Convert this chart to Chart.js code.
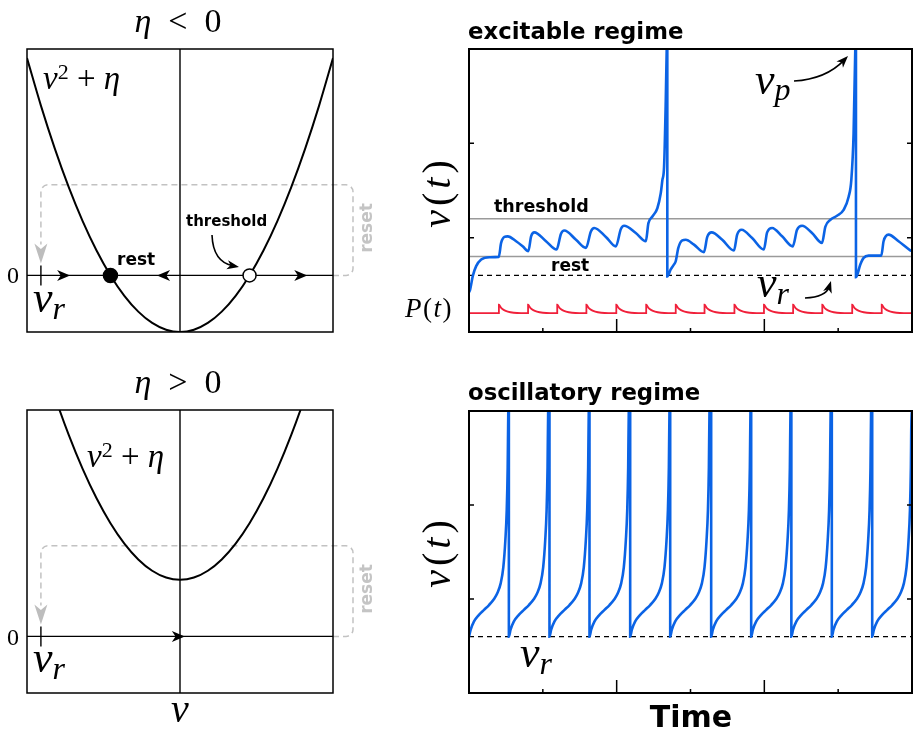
<!DOCTYPE html>
<html>
<head>
<meta charset="utf-8">
<title>QIF neuron: excitable vs oscillatory</title>
<script src="https://cdn.jsdelivr.net/npm/chart.js@4.4.1/dist/chart.umd.min.js"></script>
<style>
  body { margin: 0; background: #fff; }
  #fig { position: relative; width: 914px; height: 734px; overflow: hidden; }
  #fig canvas { position: absolute; left: 0; top: 0; }
  .lbl { position: absolute; white-space: nowrap; line-height: 1; color: #000; }
  .m { font-family: 'Liberation Serif', serif; font-style: italic; }
  .up { font-style: normal; }
  .b { font-family: 'DejaVu Sans', sans-serif; font-weight: bold; }
  .sub { position: relative; font-size: 32px; }
  .rot { transform: rotate(-90deg); text-align: center; }
</style>
</head>
<body>
<div id="fig">
  <canvas id="tl" width="914" height="734"></canvas>
  <canvas id="bl" width="914" height="734"></canvas>
  <canvas id="tr" width="914" height="734"></canvas>
  <canvas id="br" width="914" height="734"></canvas>

  <!-- left column -->
  <div class="lbl m" style="left:78px;width:200px;text-align:center;top:4px;font-size:34px">η<span class="up" style="margin:0 17px">&lt;</span><span class="up">0</span></div>
  <div class="lbl m" style="left:43px;top:62px;font-size:33px">v<span class="up" style="position:relative;top:-0.45em;font-size:22px">2</span><span class="up"> + </span>η</div>
  <div class="lbl m up" style="left:7px;top:263px;font-size:24px">0</div>
  <div class="lbl m" style="left:33px;top:276px;font-size:44px">v<span class="sub" style="top:7px">r</span></div>
  <div class="lbl b" style="left:117px;top:251px;font-size:17px">rest</div>
  <div class="lbl b" style="left:186px;top:214px;font-size:15px">threshold</div>
  <div class="lbl b rot" style="left:326px;top:218px;width:80px;height:20px;line-height:20px;font-size:17px;color:#c4c4c4">reset</div>

  <div class="lbl m" style="left:78px;width:200px;text-align:center;top:365px;font-size:34px">η<span class="up" style="margin:0 17px">&gt;</span><span class="up">0</span></div>
  <div class="lbl m" style="left:87px;top:440px;font-size:33px">v<span class="up" style="position:relative;top:-0.45em;font-size:22px">2</span><span class="up"> + </span>η</div>
  <div class="lbl m up" style="left:7px;top:625px;font-size:24px">0</div>
  <div class="lbl m" style="left:33px;top:636px;font-size:44px">v<span class="sub" style="top:7px">r</span></div>
  <div class="lbl b rot" style="left:326px;top:579px;width:80px;height:20px;line-height:20px;font-size:17px;color:#c4c4c4">reset</div>
  <div class="lbl m" style="left:130px;width:100px;text-align:center;top:689px;font-size:40px">v</div>

  <!-- right column -->
  <div class="lbl b" style="left:468px;top:20px;font-size:22.8px">excitable regime</div>
  <div class="lbl m rot" style="left:387px;top:172px;width:100px;height:40px;font-size:40px;letter-spacing:4px">v<span class="up">(</span>t<span class="up">)</span></div>
  <div class="lbl b" style="left:494px;top:198px;font-size:17.5px">threshold</div>
  <div class="lbl b" style="left:551px;top:257px;font-size:17px">rest</div>
  <div class="lbl m" style="left:405px;top:295px;font-size:27px;letter-spacing:1.5px">P<span class="up">(</span>t<span class="up">)</span></div>
  <div class="lbl m" style="left:755px;top:58px;font-size:44px">v<span class="sub" style="top:6px">p</span></div>
  <div class="lbl m" style="left:757px;top:261px;font-size:44px">v<span class="sub" style="top:7px">r</span></div>

  <div class="lbl b" style="left:468px;top:381px;font-size:22.8px">oscillatory regime</div>
  <div class="lbl m rot" style="left:387px;top:532px;width:100px;height:40px;font-size:40px;letter-spacing:4px">v<span class="up">(</span>t<span class="up">)</span></div>
  <div class="lbl m" style="left:520px;top:631px;font-size:44px">v<span class="sub" style="top:7px">r</span></div>
  <div class="lbl b" style="left:591px;width:200px;text-align:center;top:702px;font-size:30px">Time</div>
</div>

<script>
// ---------- data ----------
// left panels: flow v^2 + eta over v (eta = -1 on top, eta = +1 below)
const vAxis   = [-2.2, -2.0, -1.8, -1.6, -1.4, -1.2, -1.0, -0.8, -0.6, -0.4, -0.2, 0, 0.2, 0.4, 0.6, 0.8, 1.0, 1.2, 1.4, 1.6, 1.8, 2.0, 2.2];
const flowExc = [3.84, 3.0, 2.24, 1.56, 0.96, 0.44, 0, -0.36, -0.64, -0.84, -0.96, -1, -0.96, -0.84, -0.64, -0.36, 0, 0.44, 0.96, 1.56, 2.24, 3.0, 3.84];
const flowOsc = [5.84, 5.0, 4.24, 3.56, 2.96, 2.44, 2.0, 1.64, 1.36, 1.16, 1.04, 1, 1.04, 1.16, 1.36, 1.64, 2.0, 2.44, 2.96, 3.56, 4.24, 5.0, 5.84];
const restV = -1, thresholdV = 1, resetV = -2;

// right panels: membrane potential over time
const tMax = 60, vPeak = 10;
const timeTicks = [10, 20, 30, 40, 50];
const vTicks = [0, 5];

// excitable trace, read point by point
const excT = [0, 0.16, 0.51, 0.97, 1.65, 2.77, 4.03, 4.35, 4.80, 5.24, 6.38, 7.27, 8.04, 8.41, 8.85, 10.43, 11.86, 12.46, 12.91, 14.49,
  15.84, 16.51, 16.96, 18.54, 19.89, 20.57, 21.01, 22.59, 23.95, 24.30, 24.84, 25.51, 25.97, 26.19, 26.42, 26.65, 26.78, 26.86, 26.86, 27.32,
  27.77, 28.0, 28.35, 28.89, 29.35, 30.47, 31.82, 32.27, 32.86, 34.30, 35.88, 36.32, 36.92, 38.35, 39.93, 40.38, 41.05, 42.41, 43.85, 44.43,
  45.11, 46.46, 47.81, 48.27, 48.95, 49.84, 50.74, 51.42, 51.78, 52.09, 52.32, 52.41, 52.41, 53.0, 53.45, 54.12, 55.84, 56.15, 56.82, 58.18,
  59.76, 60];
const excV = [-2.9, -2.74, -2.04, -1.51, -1.16, -1.04, -1.02, -0.28, 0.04, 0.07, -0.19, -0.46, -0.72, 0.07, 0.28, -0.19, -0.63, 0.21, 0.38, -0.11,
  -0.54, 0.33, 0.51, 0.04, -0.46, 0.46, 0.63, 0.25, -0.19, 0.77, 1.12, 1.56, 2.35, 3.05, 3.75, 7.26, 10, 10.5, -2.05, -1.68,
  -1.42, -1.25, -0.54, -0.14, -0.11, -0.37, -0.77, 0.04, 0.28, -0.11, -0.68, 0.16, 0.42, -0.02, -0.63, 0.28, 0.51, 0.07, -0.46, 0.42,
  0.63, 0.25, -0.28, 0.59, 0.95, 1.16, 1.47, 2.17, 3.05, 5.53, 10, 10.5, -2.1, -1.42, -1.07, -0.95, -0.95, -0.19, 0.16, -0.19,
  -0.67, -0.72];

// input pulses P(t)
const pulseT = [4.05, 8.0, 11.95, 15.9, 19.95, 24.0, 28.0, 31.9, 35.95, 39.95, 43.9, 47.85, 51.9, 55.9];
const pulseDt = [0, 0, 0.3, 0.7, 1.2, 2.0, 3.0];
const pulseV = [-4, -3.55, -3.72, -3.84, -3.92, -3.98, -4];
const pBase = -4;

// oscillatory regime: spike times and one interspike trajectory after reset
const spikeT = [5.4, 10.9, 16.32, 21.83, 27.25, 32.8, 38.22, 43.66, 49.14, 54.61];
const cycleDt = [0, 0.23, 0.68, 1.35, 2.03, 2.71, 3.39, 3.83, 4.29, 4.65, 4.92, 5.11, 5.24, 5.32];
const cycleV = [-2, -1.63, -1.19, -0.84, -0.58, -0.32, 0, 0.3, 0.83, 1.7, 3.1, 4.7, 7.0, 9.9];

// ---------- build ----------
const W = 914, H = 734;
const BLUE = '#0b63e5', RED = '#f0203a';

const pData = [{ x: 0, y: pBase }];
pulseT.forEach(p => pulseDt.forEach((d, i) => pData.push({ x: p + d, y: pulseV[i] })));
pData.push({ x: tMax, y: pBase });

const oscData = [];
let start = 0;
[...spikeT, tMax + 5].forEach(s => {
  cycleDt.forEach((d, i) => { if (start + d < s) oscData.push({ x: start + d, y: cycleV[i] }); });
  oscData.push({ x: s, y: vPeak + 0.5 }, { x: s, y: resetV });
  start = s;
});

const line = (data, color, w, extra) => Object.assign({
  data, borderColor: color, borderWidth: w, pointRadius: 0, fill: false, cubicInterpolationMode: 'monotone'
}, extra || {});
const hline = (v, color, w, extra) => line([{ x: 0, y: v }, { x: tMax, y: v }], color, w, extra);

function stealth(ctx, x, y, ang, len, wid, color) {
  ctx.save();
  ctx.translate(x, y); ctx.rotate(ang);
  ctx.beginPath();
  ctx.moveTo(0, 0);
  ctx.lineTo(-len, -wid / 2);
  ctx.lineTo(-len * 0.72, 0);
  ctx.lineTo(-len, wid / 2);
  ctx.closePath();
  ctx.fillStyle = color; ctx.fill();
  ctx.restore();
}

function curvedArrow(ctx, x0, y0, cx, cy, x1, y1) {
  const ang = Math.atan2(y1 - cy, x1 - cx);
  ctx.save();
  ctx.strokeStyle = '#000'; ctx.lineWidth = 1.6; ctx.setLineDash([]);
  ctx.beginPath(); ctx.moveTo(x0, y0);
  ctx.quadraticCurveTo(cx, cy, x1 - 6 * Math.cos(ang), y1 - 6 * Math.sin(ang));
  ctx.stroke();
  stealth(ctx, x1, y1, ang, 12, 9, '#000');
  ctx.restore();
}

// phase-line decorations: axes, reset loop, flow arrows
function phaseDeco(flowArrows, withThreshold) {
  return {
    id: 'phase',
    beforeDatasetsDraw(c) {
      const { ctx, chartArea: a, scales: { x, y } } = c;
      const y0 = y.getPixelForValue(0), x0 = x.getPixelForValue(0);
      const xr = x.getPixelForValue(resetV), xR = a.right + 20, yT = y.getPixelForValue(1.6), r = 7;
      ctx.save();
      ctx.strokeStyle = '#c2c2c2'; ctx.lineWidth = 1.5; ctx.setLineDash([6, 4]);
      ctx.beginPath();
      ctx.moveTo(a.right, y0);
      ctx.arcTo(xR, y0, xR, yT, r);
      ctx.arcTo(xR, yT, xr, yT, r);
      ctx.arcTo(xr, yT, xr, y0, r);
      ctx.lineTo(xr, y0 - 31);
      ctx.stroke();
      ctx.setLineDash([]);
      stealth(ctx, xr, y0 - 12, Math.PI / 2, 20, 13, '#bdbdbd');
      ctx.strokeStyle = '#000'; ctx.lineWidth = 1.4;
      ctx.beginPath();
      ctx.moveTo(a.left, y0); ctx.lineTo(a.right, y0);
      ctx.moveTo(x0, a.top); ctx.lineTo(x0, a.bottom);
      ctx.moveTo(xr, y0 - 10); ctx.lineTo(xr, y0 + 10);
      ctx.stroke();
      ctx.restore();
    },
    afterDatasetsDraw(c) {
      const { ctx, chartArea: a, scales: { x, y } } = c;
      const y0 = y.getPixelForValue(0);
      flowArrows.forEach(([v, ang]) => stealth(ctx, x.getPixelForValue(v), y0, ang, 13, 11, '#000'));
      ctx.save();
      ctx.strokeStyle = '#000'; ctx.lineWidth = 1.5;
      ctx.strokeRect(a.left, a.top, a.width, a.height);
      ctx.restore();
      if (withThreshold) curvedArrow(ctx, 212, 235, 213, 262, 239, 267);
    }
  };
}

// time-trace decorations: inward ticks, frame, arrows
function traceDeco(withArrows) {
  return {
    id: 'trace',
    afterDatasetsDraw(c) {
      const { ctx, chartArea: a, scales: { x, y } } = c;
      ctx.save();
      ctx.strokeStyle = '#000'; ctx.lineWidth = 1.5;
      ctx.beginPath();
      vTicks.forEach(v => {
        const p = y.getPixelForValue(v);
        ctx.moveTo(a.left, p); ctx.lineTo(a.left + 5, p);
        ctx.moveTo(a.right, p); ctx.lineTo(a.right - 5, p);
      });
      timeTicks.forEach((t, i) => {
        const p = x.getPixelForValue(t);
        ctx.moveTo(p, a.bottom); ctx.lineTo(p, a.bottom - (i % 2 ? 13 : 4));
      });
      ctx.stroke();
      ctx.lineWidth = 2;
      ctx.strokeRect(a.left, a.top, a.width, a.height);
      ctx.restore();
      if (withArrows) {
        curvedArrow(ctx, 794, 81, 826, 79, 848, 56);
        curvedArrow(ctx, 805, 298, 826, 297, 831, 281);
      }
    }
  };
}

function panel(id, box, xr, yr, datasets, deco) {
  return new Chart(document.getElementById(id), {
    type: 'line',
    data: { datasets },
    options: {
      responsive: false, animation: false, events: [],
      layout: { padding: { left: box[0], top: box[1], right: W - box[2], bottom: H - box[3] } },
      scales: {
        x: { type: 'linear', min: xr[0], max: xr[1], display: false },
        y: { type: 'linear', min: yr[0], max: yr[1], display: false }
      },
      plugins: { legend: { display: false }, tooltip: { enabled: false } }
    },
    plugins: [deco]
  });
}

const dot = (v, fillColor, r) => ({
  data: [{ x: v, y: 0 }], showLine: false, pointRadius: r,
  pointBackgroundColor: fillColor, pointBorderColor: '#000', pointBorderWidth: 1.5
});

panel('tl', [27, 49, 333, 332], [-2.2, 2.2], [-1, 4], [
  dot(restV, '#000', 7),
  dot(thresholdV, '#fff', 6.5),
  line(vAxis.map((v, i) => ({ x: v, y: flowExc[i] })), '#000', 2)
], phaseDeco([[-1.58, 0], [-0.33, Math.PI], [1.83, 0]], true));

panel('bl', [27, 410, 333, 693], [-2.2, 2.2], [-1, 4], [
  line(vAxis.map((v, i) => ({ x: v, y: flowOsc[i] })), '#000', 2)
], phaseDeco([[0.07, 0]], false));

panel('tr', [469, 49, 912, 332], [0, tMax], [-5, vPeak], [
  line(excT.map((t, i) => ({ x: t, y: excV[i] })), BLUE, 2.6),
  line(pData, RED, 1.8),
  hline(thresholdV, '#9a9a9a', 1.5),
  hline(restV, '#9a9a9a', 1.5),
  hline(resetV, '#000', 1.4, { borderDash: [5, 4] })
], traceDeco(true));

panel('br', [469, 411, 912, 693], [0, tMax], [-5, vPeak], [
  line(oscData, BLUE, 2.6),
  hline(resetV, '#000', 1.4, { borderDash: [5, 4] })
], traceDeco(false));
</script>
</body>
</html>
